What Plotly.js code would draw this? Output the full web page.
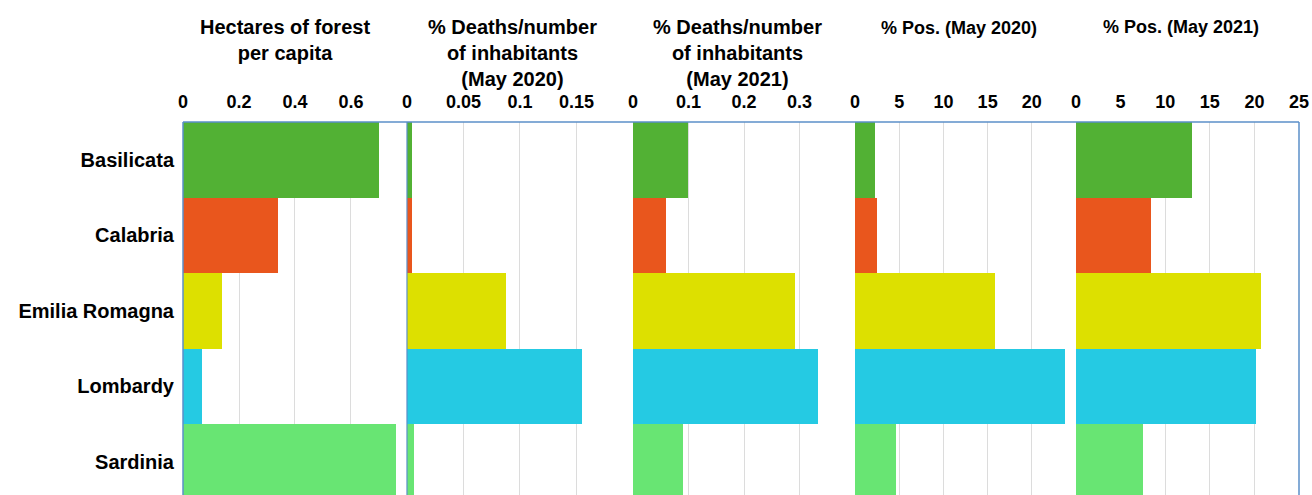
<!DOCTYPE html>
<html>
<head>
<meta charset="utf-8">
<script src="https://cdn.plot.ly/plotly-3.0.1.min.js"></script>
<style>html,body{margin:0;padding:0;background:#fff;}#chart{width:1312px;height:495px;}</style>
</head>
<body>
<div id="chart"></div>
<script>
// ---- data ----
const regions = ["Basilicata", "Calabria", "Emilia Romagna", "Lombardy", "Sardinia"];
const forestPerCapita = [0.70, 0.34, 0.138, 0.068, 0.76];
const deathsMay2020 = [0.004, 0.004, 0.088, 0.155, 0.006];
const deathsMay2021 = [0.10, 0.059, 0.292, 0.334, 0.090];
const posMay2020 = [2.2, 2.5, 15.8, 23.8, 4.6];
const posMay2021 = [13.0, 8.4, 20.7, 20.2, 7.5];

const panelTitles = [
  "Hectares of forest<br>per capita",
  "% Deaths/number<br>of inhabitants<br>(May 2020)",
  "% Deaths/number<br>of inhabitants<br>(May 2021)",
  "% Pos. (May 2020)",
  "% Pos. (May 2021)"
];
const tickVals1 = [0, 0.2, 0.4, 0.6];
const tickVals2 = [0, 0.05, 0.1, 0.15];
const tickVals3 = [0, 0.1, 0.2, 0.3];
const tickVals4 = [0, 5, 10, 15, 20];
const tickVals5 = [0, 5, 10, 15, 20, 25];
const tickText2 = ["0", "0.05", "0.1", "0.15"];

// ---- styling ----
const regionColors = ["#52b134", "#e9561d", "#dde000", "#25cae3", "#68e573"];
const FONT = "Liberation Sans, Arial, sans-serif";
const frameColor = "#5b8fc9";

const series = [forestPerCapita, deathsMay2020, deathsMay2021, posMay2020, posMay2021];
const ranges = [[0, 0.8], [0, 0.2], [0, 0.4], [0, 25], [0, 25]];
const domains = [[0, 0.2007], [0.2007, 0.4032], [0.4032, 0.6022], [0.6022, 0.8002], [0.8002, 1]];
const tickSets = [tickVals1, tickVals2, tickVals3, tickVals4, tickVals5];
const tickTexts = [null, tickText2, null, null, null];
const axisIds = ["x", "x2", "x3", "x4", "x5"];

const traces = series.map((vals, i) => ({
  type: "bar",
  orientation: "h",
  x: vals,
  y: regions,
  xaxis: axisIds[i],
  yaxis: "y",
  marker: { color: regionColors, line: { width: 0 } },
  hoverinfo: "x+y",
  showlegend: false
}));

const layout = {
  width: 1312,
  height: 495,
  margin: { l: 183, r: 13, t: 122, b: 0, pad: 0 },
  paper_bgcolor: "#ffffff",
  plot_bgcolor: "#ffffff",
  bargap: 0,
  font: { family: FONT, color: "#000" },
  yaxis: {
    type: "category",
    categoryorder: "array",
    categoryarray: regions,
    range: [4.44, -0.5],
    showgrid: false,
    zeroline: false,
    showline: false,
    ticks: "",
    ticklabelstandoff: 8,
    tickfont: { family: FONT, size: 20, color: "#000", weight: "bold" }
  },
  annotations: [],
  shapes: []
};

const titleX = [0.0917, 0.295, 0.4973, 0.6957, 0.8943];
const titleSizes = [20, 20, 20, 18, 18];
const titleTops = [14, 14, 14, 16, 15];
for (let i = 0; i < 5; i++) {
  const key = i === 0 ? "xaxis" : "xaxis" + (i + 1);
  const ax = {
    domain: domains[i],
    range: ranges[i],
    anchor: "y",
    side: "top",
    tickmode: "array",
    tickvals: tickSets[i],
    showgrid: true,
    gridcolor: "#dcdcdc",
    gridwidth: 1,
    zeroline: false,
    showline: false,
    ticks: "",
    ticklabelstandoff: 9,
    tickfont: { family: FONT, size: 18, color: "#000", weight: "bold" },
    fixedrange: true
  };
  if (tickTexts[i]) ax.ticktext = tickTexts[i];
  layout[key] = ax;
  layout.annotations.push({
    xref: "paper", yref: "paper",
    x: titleX[i], y: (495 - titleTops[i]) / 373,
    xanchor: "center", yanchor: "top",
    text: panelTitles[i],
    showarrow: false,
    align: "center",
    font: { family: FONT, size: titleSizes[i], color: "#000", weight: "bold" }
  });
}

// frame: top, left, right, and first panel divider
const lineStyle = { color: frameColor, width: 1.5 };
layout.shapes.push(
  { type: "line", xref: "paper", yref: "paper", x0: 0, x1: 1, y0: 1, y1: 1, line: lineStyle, layer: "above" },
  { type: "line", xref: "paper", yref: "paper", x0: 0, x1: 0, y0: 0, y1: 1, line: lineStyle, layer: "above" },
  { type: "line", xref: "paper", yref: "paper", x0: 1, x1: 1, y0: 0, y1: 1, line: lineStyle, layer: "above" },
  { type: "line", xref: "paper", yref: "paper", x0: 0.2007, x1: 0.2007, y0: 0, y1: 1, line: { color: frameColor, width: 1.2 }, layer: "above" }
);

Plotly.newPlot("chart", traces, layout, { displayModeBar: false, staticPlot: true });
</script>
</body>
</html>
